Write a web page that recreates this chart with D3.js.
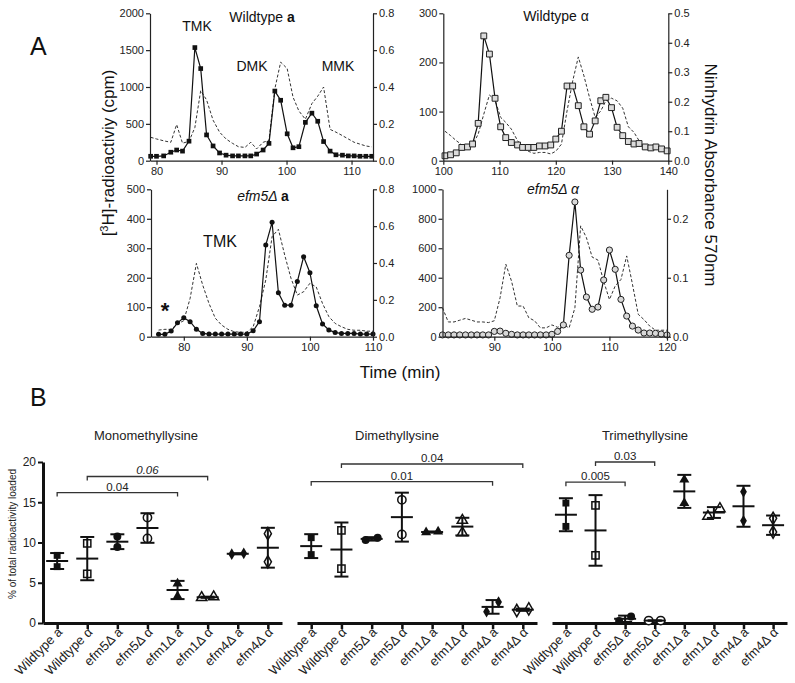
<!DOCTYPE html>
<html><head><meta charset="utf-8">
<script src="https://cdn.jsdelivr.net/npm/d3@7/dist/d3.min.js"></script>
<style>body{margin:0;background:#fff}svg{display:block}</style>
</head><body><svg id="c" width="795" height="683"></svg>
<script>
const FONT = '"Liberation Sans", Arial, Helvetica, sans-serif';
// ---------------- Panel A data ----------------
// Wildtype a
const wtA_time = [79.1,80.0,81.1,82.2,83.1,84.0,85.0,85.9,86.8,87.7,88.7,89.7,90.7,91.7,92.6,93.6,94.5,95.4,96.4,97.3,98.2,99.1,100.1,101.0,101.9,102.9,103.9,104.8,105.7,106.7,107.6,108.6,109.5,110.4,111.3,112.2,113.1];
const wtA_cpm = [60,60,65,115,145,130,265,1535,1250,350,200,105,75,65,65,65,65,90,145,235,945,820,365,175,190,520,645,535,260,130,80,75,65,65,60,60,60];
const wtA_abs = [0.127,0.118,0.108,0.100,0.196,0.095,0.105,0.18,0.38,0.33,0.22,0.155,0.118,0.094,0.076,0.072,0.1,0.064,0.1,0.11,0.39,0.535,0.5,0.345,0.27,0.225,0.31,0.35,0.40,0.17,0.155,0.136,0.118,0.1,0.09,0.08,0.075];
// Wildtype alpha
const wtAl_time = [100.3,101.3,102.3,103.3,104.3,105.2,106.2,107.2,108.2,109.2,110.2,111.1,112.1,113.2,114.1,115.1,116.1,117.1,118.1,119.1,120.0,121.0,122.0,123.0,124.0,125.0,126.0,127.0,128.0,128.9,129.9,130.9,131.9,132.9,133.9,134.8,135.9,136.9,137.8,138.8,139.8];
const wtAl_cpm = [10,12,16,27,28,34,76,254,217,127,69,47,37,32,27,27,27,30,30,32,44,60,152,152,112,69,54,81,122,129,108,68,51,39,34,35,28,26,28,24,20];
const wtAl_abs = [0.1,0.085,0.068,0.054,0.051,0.054,0.09,0.158,0.223,0.205,0.147,0.13,0.107,0.068,0.045,0.032,0.025,0.028,0.028,0.023,0.032,0.056,0.169,0.27,0.352,0.288,0.214,0.147,0.169,0.203,0.212,0.203,0.178,0.115,0.096,0.068,0.047,0.043,0.04,0.036,0.034];
// efm5Δ a
const e5A_time = [76,77,78,79,80,81,82,83,84,85,86,87,88,89,90,91,92,93,94,95,96,97,98,99,100,101,102,103,104,105,106,107,108,109,110];
const e5A_cpm = [8,8,19,47,64,51,25,11,9,9,9,9,9,9,9,20,51,311,388,149,107,107,187,271,217,105,43,23,14,11,11,11,9,9,9];
const e5A_abs = [0.036,0.04,0.04,0.069,0.087,0.208,0.398,0.28,0.18,0.1,0.063,0.04,0.027,0.024,0.024,0.054,0.163,0.308,0.543,0.583,0.443,0.317,0.226,0.244,0.29,0.27,0.18,0.109,0.072,0.054,0.04,0.035,0.035,0.03,0.03];
// efm5Δ alpha
const e5Al_time = [81,82,83,84,85,86,87,88,89,90,91,92,93,94,95,96,97,98,99,100,101,102,103,104,105,106,107,108,109,110,111,112,113,114,115,116,117,118,119,120];
const e5Al_cpm = [12,12,12,12,12,12,12,12,12,36,38,23,16,12,12,12,12,12,12,16,36,80,552,914,452,269,186,201,385,588,457,253,140,72,45,25,25,23,18,12];
const e5Al_abs = [0.049,0.025,0.025,0.028,0.031,0.028,0.025,0.025,0.024,0.027,0.066,0.123,0.094,0.052,0.052,0.032,0.027,0.015,0.015,0.02,0.016,0.02,0.015,0.049,0.188,0.168,0.135,0.13,0.094,0.063,0.086,0.097,0.137,0.089,0.038,0.029,0.018,0.011,0.011,0.011];

// ---------------- Panel B data ----------------
const categories = ["Wildtype a","Wildtype α","efm5Δ a","efm5Δ α","efm1Δ a","efm1Δ α","efm4Δ a","efm4Δ α"];
const monoValues = [[8.4,7.0],[9.9,6.1],[10.75,9.45],[13.1,10.5],[4.9,3.3],[3.15,3.25],[8.55,8.65],[11.1,7.6]];
const diValues   = [[10.6,8.5],[11.5,6.75],[10.3,10.6],[15.3,11.0],[11.25,11.35],[12.75,11.2],[1.4,2.6],[1.55,1.75]];
const triValues  = [[14.9,12.0],[14.6,8.4],[0.25,0.8],[0.3,0.3],[17.8,14.9],[13.25,14.2],[16.3,12.7],[13.0,11.3]];
const panelTitles = ["Monomethyllysine","Dimethyllysine","Trimethyllysine"];
const yTicksB = [0,5,10,15,20];
const monoBrackets = [{a:1,b:5,label:"0.06",italic:true},{a:0,b:4,label:"0.04",italic:false}];
const diBrackets   = [{a:1,b:7,label:"0.04",italic:false},{a:0,b:6,label:"0.01",italic:false}];
const triBrackets  = [{a:1,b:3,label:"0.03",italic:false},{a:0,b:2,label:"0.005",italic:false}];

const svg = d3.select("#c");
svg.append("rect").attr("width",795).attr("height",683).attr("fill","#fff");

function styleAxis(a, fs, sw, col){
  a.attr("font-family",FONT).attr("font-size",fs);
  a.selectAll("text").attr("fill",col||"#222");
  a.selectAll("path,line").attr("stroke",col||"#222").attr("stroke-width",sw);
}

function panelA(o){
  const x = d3.scaleLinear().domain(o.xd).range([o.l,o.r]);
  const yL = d3.scaleLinear().domain(o.yd).range([o.b,o.t]);
  const yR = d3.scaleLinear().domain(o.ad).range([o.b,o.t]);
  const g = svg.append("g");
  g.append("path").attr("d", d3.line().x((d,i)=>x(o.time[i])).y(d=>yR(d))(o.abs))
    .attr("fill","none").attr("stroke","#333").attr("stroke-width",1).attr("stroke-dasharray","3,2");
  g.append("path").attr("d", d3.line().x((d,i)=>x(o.time[i])).y(d=>yL(d))(o.cpm))
    .attr("fill","none").attr("stroke","#111").attr("stroke-width",1.2);
  g.selectAll(null).data(o.cpm).join("path")
    .attr("transform",(d,i)=>`translate(${x(o.time[i])},${yL(d)})`)
    .attr("d", d3.symbol(o.sym, o.size)())
    .attr("fill",o.fill).attr("stroke",o.stroke).attr("stroke-width",o.sw);
  const aL = g.append("g").attr("transform",`translate(${o.l},0)`)
    .call(d3.axisLeft(yL).tickValues(o.yt).tickFormat(d3.format("d")).tickSize(4).tickSizeOuter(0).tickPadding(2));
  const aR = g.append("g").attr("transform",`translate(${o.r},0)`)
    .call(d3.axisRight(yR).tickValues(o.at).tickFormat(d3.format(".1f")).tickSize(4).tickSizeOuter(0).tickPadding(2));
  const aB = g.append("g").attr("transform",`translate(0,${o.b})`)
    .call(d3.axisBottom(x).tickValues(o.xt).tickFormat(d3.format("d")).tickSize(4).tickSizeOuter(0).tickPadding(3));
  [aL,aR,aB].forEach(a=>styleAxis(a,11,1.2));
  return g;
}

panelA({xd:[79,113.3],l:150,r:373,yd:[0,2000],ad:[0,0.8],b:160.7,t:13.3,
  time:wtA_time,cpm:wtA_cpm,abs:wtA_abs,sym:d3.symbolSquare,size:22,fill:"#111",stroke:"none",sw:0,
  xt:[80,90,100,110],yt:[0,500,1000,1500,2000],at:[0,0.2,0.4,0.6,0.8]});
panelA({xd:[100,140],l:443.3,r:668.3,yd:[0,300],ad:[0,0.5],b:160.7,t:13.3,
  time:wtAl_time,cpm:wtAl_cpm,abs:wtAl_abs,sym:d3.symbolSquare,size:34,fill:"#dcdcdc",stroke:"#222",sw:1,
  xt:[100,110,120,130,140],yt:[0,100,200,300],at:[0,0.1,0.2,0.3,0.4,0.5]});
panelA({xd:[74.8,110],l:151,r:373,yd:[0,500],ad:[0,0.8],b:336.7,t:189.3,
  time:e5A_time,cpm:e5A_cpm,abs:e5A_abs,sym:d3.symbolCircle,size:20,fill:"#111",stroke:"none",sw:0,
  xt:[80,90,100,110],yt:[0,100,200,300,400,500],at:[0,0.2,0.4,0.6,0.8]});
panelA({xd:[81,120],l:442.5,r:667,yd:[0,1000],ad:[0,0.25],b:336.7,t:189.3,
  time:e5Al_time,cpm:e5Al_cpm,abs:e5Al_abs,sym:d3.symbolCircle,size:30,fill:"#d8d8d8",stroke:"#222",sw:1,
  xt:[90,100,110,120],yt:[0,200,400,600,800,1000],at:[0,0.1,0.2]});

function txt(x,y,s,fs,opts={}){
  const t = svg.append("text").attr("x",x).attr("y",y).attr("font-family",FONT)
    .attr("font-size",fs).attr("fill",opts.fill||"#111").attr("text-anchor",opts.anchor||"middle");
  if (opts.italic) t.attr("font-style","italic");
  if (opts.bold) t.attr("font-weight","bold");
  if (opts.rotate!==undefined) t.attr("transform",`rotate(${opts.rotate},${x},${y})`);
  if (s!==null) t.text(s);
  return t;
}
// panel labels in A
let t1 = txt(262,22,null,14); t1.append("tspan").text("Wildtype "); t1.append("tspan").attr("font-weight","bold").text("a");
txt(197,31,"TMK",14); txt(252,71,"DMK",14); txt(338,71,"MMK",14);
txt(556,21,"Wildtype α",14);
let t3 = txt(263,201,null,14); t3.append("tspan").attr("font-style","italic").text("efm5Δ "); t3.append("tspan").attr("font-weight","bold").text("a");
txt(220,247,"TMK",16);
txt(165,318,"*",22,{bold:true});
txt(553,194,"efm5Δ α",14,{italic:true});
// axis titles A
let yt = txt(114,153,null,17,{rotate:-90});
yt.append("tspan").text("[");
yt.append("tspan").attr("font-size",11).attr("dy",-6).text("3");
yt.append("tspan").attr("dy",6).text("H]-radioactiviy (cpm)");
txt(705,175,"Ninhydrin Absorbance 570nm",17,{rotate:90});
txt(400,378,"Time (min)",17);
txt(30,55,"A",25,{anchor:"start"});
txt(30,406,"B",25,{anchor:"start"});

// ---------------- Panel B ----------------
const yB = d3.scaleLinear().domain([0,20]).range([623,462]);
const panelsB = [
  {l:43,r:282,values:monoValues,brackets:monoBrackets,title:panelTitles[0],tx:146,br:[18.2,16.2]},
  {l:297,r:537,values:diValues,brackets:diBrackets,title:panelTitles[1],tx:397,br:[19.75,17.55]},
  {l:552,r:787,values:triValues,brackets:triBrackets,title:panelTitles[2],tx:645,br:[20.0,17.5]}
];
const symTypes = [d3.symbolSquare,d3.symbolSquare,d3.symbolCircle,d3.symbolCircle,d3.symbolTriangle,d3.symbolTriangle,d3.symbolDiamond,d3.symbolDiamond];
const symSizes = [48,52,50,54,44,46,40,44];
const filled = [true,false,true,false,true,false,true,false];

panelsB.forEach((p,pi)=>{
  const x = d3.scalePoint().domain(categories).range([p.l,p.r]).padding(0.47);
  const g = svg.append("g");
  const ax = g.append("g").attr("transform","translate(0,623)")
    .call(d3.axisBottom(x).tickSize(6).tickSizeOuter(0).tickFormat(""));
  ax.select(".domain").attr("stroke","#111").attr("stroke-width",3);
  ax.selectAll("line").attr("stroke","#111").attr("stroke-width",2.5);
  categories.forEach(c=>{
    g.append("text").attr("font-family",FONT).attr("font-size",13).attr("fill","#222")
      .attr("text-anchor","end")
      .attr("transform",`translate(${x(c)+6},${633}) rotate(-45)`).text(c);
  });
  if (pi===0){
    const ay = g.append("g").attr("transform",`translate(${p.l},0)`)
      .call(d3.axisLeft(yB).tickValues(yTicksB).tickSize(5).tickSizeOuter(0).tickPadding(2));
    ay.attr("font-family",FONT).attr("font-size",12);
    ay.selectAll("text").attr("fill","#222");
    ay.select(".domain").attr("stroke","#111").attr("stroke-width",3);
    ay.selectAll("line").attr("stroke","#111").attr("stroke-width",2);
  }
  p.values.forEach((v,ci)=>{
    const cx = x(categories[ci]);
    const m = d3.mean(v), sd = d3.deviation(v);
    const close = Math.abs(v[0]-v[1]) < 1.25;
    const sorted = v.slice().sort((a,b)=>a-b);
    sorted.forEach((val,k)=>{
      const dx = close ? (k===0?-6:6) : 0;
      g.append("path").attr("transform",`translate(${cx+dx},${yB(val)})`)
        .attr("d",d3.symbol(symTypes[ci],symSizes[ci])())
        .attr("fill",filled[ci]?"#111":"#fff").attr("stroke","#111").attr("stroke-width",filled[ci]?0:1.5);
    });
    const s = "#111";
    g.append("line").attr("x1",cx).attr("x2",cx).attr("y1",yB(m-sd)).attr("y2",yB(m+sd)).attr("stroke",s).attr("stroke-width",2);
    [m-sd,m+sd].forEach(e=>g.append("line").attr("x1",cx-7).attr("x2",cx+7).attr("y1",yB(e)).attr("y2",yB(e)).attr("stroke",s).attr("stroke-width",2));
    g.append("line").attr("x1",cx-11).attr("x2",cx+11).attr("y1",yB(m)).attr("y2",yB(m)).attr("stroke",s).attr("stroke-width",2);
  });
  p.brackets.forEach((b,bi)=>{
    const yy = yB(p.br[bi]);
    const xa = x(categories[b.a]), xb = x(categories[b.b]);
    g.append("path").attr("d",`M${xa},${yy+4}V${yy}H${xb}V${yy+4}`).attr("fill","none").attr("stroke","#333").attr("stroke-width",1.3);
    const t = g.append("text").attr("x",(xa+xb)/2).attr("y",yy-2).attr("text-anchor","middle")
      .attr("font-family",FONT).attr("font-size",11.5).attr("fill","#222").text(b.label);
    if (b.italic) t.attr("font-style","italic");
  });
  txt(p.tx,440,p.title,13,{fill:"#222"});
});
txt(16,534,"% of total radioactivity loaded",10,{rotate:-90,fill:"#222"});
</script></body></html>
